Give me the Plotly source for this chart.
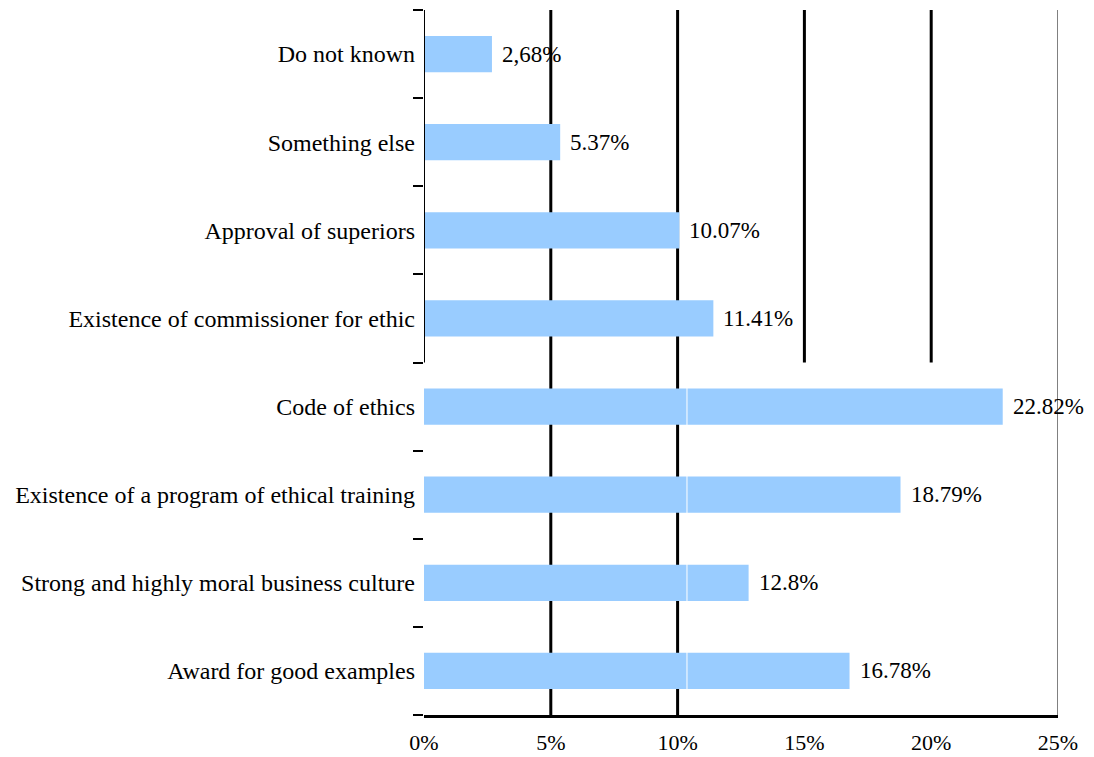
import plotly.graph_objects as go

# categories listed bottom -> top (plotly draws the first one at the bottom)
categories = [
    "Award for good examples",
    "Strong and highly moral business culture",
    "Existence of a program of ethical training",
    "Code of ethics",
    "Existence of commissioner for ethic",
    "Approval of superiors",
    "Something else",
    "Do not known",
]
shares = [16.78, 12.8, 18.79, 22.82, 11.41, 10.07, 5.37, 2.68]
share_labels = ["16.78%", "12.8%", "18.79%", "22.82%", "11.41%", "10.07%", "5.37%", "2,68%"]
x_ticks = [0, 5, 10, 15, 20, 25]
x_tick_text = ["0%", "5%", "10%", "15%", "20%", "25%"]

FONT = "Liberation Serif, Times New Roman, serif"

fig = go.Figure(go.Bar(
    x=shares, y=categories, orientation="h",
    marker=dict(color="#99CCFF", line=dict(width=0)),
    width=0.41,
    hoverinfo="skip",
))

# value labels to the right of each bar
for cat, val, lab in zip(categories, shares, share_labels):
    fig.add_annotation(x=val, y=cat, text=lab, showarrow=False,
                       xanchor="left", xshift=8, font=dict(size=23, color="black"))

# odd black grid lines from the source, drawn below the bars
shapes = []
for v in (5, 10):
    shapes.append(dict(type="line", xref="x", yref="y", x0=v, x1=v, y0=-0.5, y1=7.5,
                       line=dict(color="black", width=3), layer="below"))
for v in (15, 20):
    shapes.append(dict(type="line", xref="x", yref="y", x0=v, x1=v, y0=3.5, y1=7.5,
                       line=dict(color="black", width=3), layer="below"))
shapes.append(dict(type="line", xref="x", yref="y", x0=25, x1=25, y0=-0.5, y1=7.5,
                   line=dict(color="black", width=1), layer="below"))
# y axis line only on the upper half
shapes.append(dict(type="line", xref="x", yref="y", x0=0, x1=0, y0=3.5, y1=7.5,
                   line=dict(color="black", width=2)))
# faint white seam through the bars
shapes.append(dict(type="line", xref="x", yref="y", x0=10.37, x1=10.37, y0=-0.3, y1=3.3,
                   line=dict(color="white", width=1)))
fig.update_layout(shapes=shapes)

# page body adds an 8px offset, so the figure is a bit smaller than the window
fig.update_layout(
    width=1086, height=749,
    margin=dict(l=416, r=36, t=2, b=42),
    paper_bgcolor="white", plot_bgcolor="white",
    font=dict(family=FONT, size=22, color="black"),
    showlegend=False,
    bargap=0.5,
)
fig.update_xaxes(
    range=[0, 25], tickvals=x_ticks, ticktext=x_tick_text,
    showgrid=False, zeroline=False, automargin=False,
    showline=True, linecolor="black", linewidth=3,
    ticks="", ticklabelstandoff=6,
    tickfont=dict(size=22),
)
fig.update_yaxes(
    range=[-0.5, 7.5], showgrid=False, zeroline=False, showline=False,
    automargin=False,
    ticks="outside", tickson="boundaries", ticklen=10, tickwidth=2, tickcolor="black",
    ticklabelstandoff=8, tickfont=dict(size=24),
)

fig.write_html("out.html")
